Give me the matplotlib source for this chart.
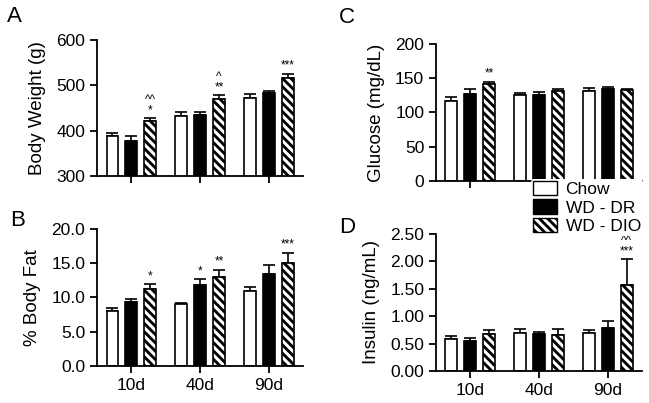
import numpy as np
import matplotlib
matplotlib.use("Agg")
import matplotlib.pyplot as plt
from matplotlib.patches import Patch
from matplotlib.legend_handler import HandlerTuple

plt.rcParams['font.family'] = ['Liberation Sans', 'DejaVu Sans']
plt.rcParams['hatch.linewidth'] = 2.2

days = ["10d", "40d", "90d"]
groups = ["Chow", "WD - DR", "WD - DIO"]

# body weight (g)
bw_chow = [388, 432, 472]
bw_chow_err = [6, 10, 9]
bw_dr = [377, 434, 484]
bw_dr_err = [12, 7, 4]
bw_dio = [421, 470, 517]
bw_dio_err = [6, 8, 9]
bw_sig = ["^^\n*", "^\n**", "***"]

# body fat (%)
fat_chow = [8.1, 9.0, 11.0]
fat_chow_err = [0.3, 0.2, 0.6]
fat_dr = [9.4, 11.8, 13.4]
fat_dr_err = [0.35, 0.9, 1.4]
fat_dio = [11.2, 13.0, 15.0]
fat_dio_err = [0.75, 1.05, 1.5]
fat_sig_dr = ["", "*", ""]
fat_sig_dio = ["*", "**", "***"]

# glucose (mg/dL)
glu_chow = [117, 125, 132]
glu_chow_err = [5, 4, 4]
glu_dr = [127, 125, 134]
glu_dr_err = [8, 5, 3]
glu_dio = [142, 132, 133]
glu_dio_err = [3, 2, 2]
glu_sig = ["**", "", ""]

# insulin (ng/mL)
ins_chow = [0.58, 0.69, 0.69]
ins_chow_err = [0.05, 0.07, 0.05]
ins_dr = [0.55, 0.67, 0.79]
ins_dr_err = [0.05, 0.05, 0.12]
ins_dio = [0.68, 0.66, 1.57]
ins_dio_err = [0.06, 0.10, 0.47]
ins_sig = ["", "", "^^\n***"]

W = 0.174
OFF = 0.275
x = np.arange(len(days))


def draw_panel(ax, vals, errs, ylim, yticks, fmt, ylabel, letter, lpos, show_x):
    chow, dr, dio = vals
    pos = [x - OFF, x, x + OFF]
    ax.bar(pos[0], chow, W, color='white', edgecolor='black', lw=1.2, zorder=2)
    ax.bar(pos[1], dr, W, color='black', edgecolor='black', lw=1.2, zorder=2)
    ax.bar(pos[2], dio, W, color='black', edgecolor='white', lw=0, hatch='\\\\\\\\', zorder=2)
    ax.bar(pos[2], dio, W, fill=False, edgecolor='black', lw=1.2, zorder=3)
    for p, v, e in zip(pos, vals, errs):
        ax.errorbar(p, v, yerr=[np.zeros(len(e)), e], fmt='none', ecolor='black',
                    elinewidth=1.2, capsize=4, capthick=1.2, zorder=1)
    ax.set_ylim(*ylim)
    ax.set_xlim(-0.5, 2.5)
    ax.set_yticks(yticks)
    ax.set_yticklabels([fmt.format(t) for t in yticks])
    ax.set_xticks(x)
    if show_x:
        ax.set_xticklabels(days)
    else:
        ax.set_xticklabels([])
    for s in ['top', 'right']:
        ax.spines[s].set_visible(False)
    for s in ['left', 'bottom']:
        ax.spines[s].set_linewidth(1.3)
    ax.tick_params(labelsize=12.5, width=1.3, length=5, direction='out')
    ax.set_ylabel(ylabel, fontsize=13.5, labelpad=7)
    ax.text(lpos[0], lpos[1], letter, transform=ax.transAxes, fontsize=16, va='top')


def annotate(ax, xs, tops, labels, span):
    for xi, t, lab in zip(xs, tops, labels):
        if lab:
            ax.text(xi, t + span * 0.015, lab, ha='center', va='bottom',
                    fontsize=8.5, linespacing=0.8)


fig = plt.figure(figsize=(6.49, 4.03), dpi=100)
axA = fig.add_axes([0.1495, 0.5633, 0.3175, 0.3374])
axB = fig.add_axes([0.1495, 0.0918, 0.3175, 0.3400])
axC = fig.add_axes([0.6718, 0.5509, 0.3175, 0.3399])
axD = fig.add_axes([0.6718, 0.0794, 0.3175, 0.3400])

draw_panel(axA, [bw_chow, bw_dr, bw_dio], [bw_chow_err, bw_dr_err, bw_dio_err],
           (300, 600), [300, 400, 500, 600], "{:.0f}", "Body Weight (g)", "A",
           (-0.435, 1.25), False)
annotate(axA, x + OFF, np.add(bw_dio, bw_dio_err), bw_sig, 300)

draw_panel(axB, [fat_chow, fat_dr, fat_dio], [fat_chow_err, fat_dr_err, fat_dio_err],
           (0, 20), [0, 5, 10, 15, 20], "{:.1f}", "% Body Fat", "B",
           (-0.42, 1.14), True)
annotate(axB, x, np.add(fat_dr, fat_dr_err), fat_sig_dr, 20)
annotate(axB, x + OFF, np.add(fat_dio, fat_dio_err), fat_sig_dio, 20)

draw_panel(axC, [glu_chow, glu_dr, glu_dio], [glu_chow_err, glu_dr_err, glu_dio_err],
           (0, 200), [0, 50, 100, 150, 200], "{:.0f}", "Glucose (mg/dL)", "C",
           (-0.47, 1.27), False)
annotate(axC, x + OFF, np.add(glu_dio, glu_dio_err), glu_sig, 200)

draw_panel(axD, [ins_chow, ins_dr, ins_dio], [ins_chow_err, ins_dr_err, ins_dio_err],
           (0, 2.5), [0, 0.5, 1.0, 1.5, 2.0, 2.5], "{:.2f}", "Insulin (ng/mL)", "D",
           (-0.47, 1.125), True)
annotate(axD, x + OFF, np.add(ins_dio, ins_dio_err), ins_sig, 2.5)

handles = [
    Patch(facecolor='white', edgecolor='black', lw=1.0),
    Patch(facecolor='black', edgecolor='black', lw=1.0),
    (Patch(facecolor='black', edgecolor='white', lw=0, hatch='\\\\\\\\'),
     Patch(fill=False, edgecolor='black', lw=1.0)),
]
leg = fig.legend(handles, groups, loc='upper left', bbox_to_anchor=(0.818, 0.555),
                 frameon=True, fontsize=12.5, handlelength=1.4, handleheight=0.9,
                 handletextpad=0.5, labelspacing=0.12, borderpad=0.1, borderaxespad=0,
                 handler_map={tuple: HandlerTuple(ndivide=1, pad=0)})
leg.get_frame().set_edgecolor('none')
leg.get_frame().set_facecolor('white')
leg.get_frame().set_alpha(1)

fig.savefig("out.png", dpi=100)
